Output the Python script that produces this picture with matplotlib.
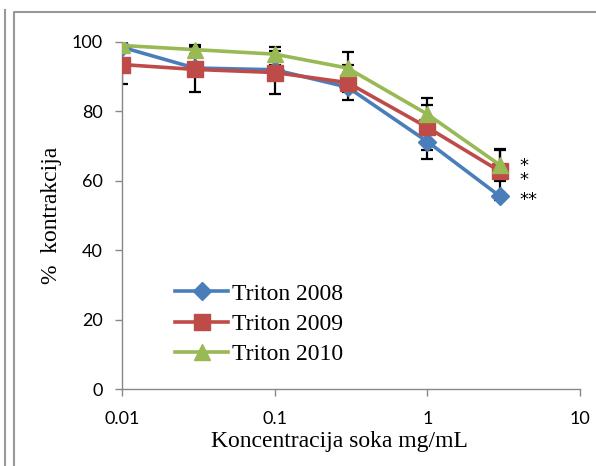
import matplotlib
matplotlib.use("Agg")
import matplotlib.pyplot as plt
from matplotlib.lines import Line2D

conc = [0.01, 0.03, 0.1, 0.3, 1, 3]
triton_2008 = [98.5, 92.5, 92.0, 87.0, 71.3, 55.5]
triton_2009 = [93.5, 92.1, 91.2, 88.3, 75.4, 62.7]
triton_2010 = [99.0, 97.8, 96.5, 92.5, 79.2, 64.5]
err_2008 = [1.0, 1.0, 1.5, 1.5, 5.0, 1.0]
err_2009 = [5.5, 6.5, 6.3, 5.0, 6.5, 6.5]
err_2010 = [1.0, 1.2, 2.0, 4.7, 4.7, 4.5]
series_names = ["Triton 2008", "Triton 2009", "Triton 2010"]
y_ticks = [0, 20, 40, 60, 80, 100]
x_ticks = [0.01, 0.1, 1, 10]
x_tick_labels = ["0.01", "0.1", "1", "10"]
star_top = "*\n*"
star_top_y = 62.2
star_bottom = "**"
star_bottom_y = 54.6

W, H = 596, 466
fig = plt.figure(figsize=(W / 100, H / 100), dpi=100)
ax = fig.add_axes([122 / W, 1 - 389 / H, (580 - 122) / W, (389 - 42) / H])

colors = ["#4A7EBB", "#BE4B48", "#98B954"]
markers = ["D", "s", "^"]
msizes = [9, 11.5, 11.5]
data = [triton_2008, triton_2009, triton_2010]
errs = [err_2008, err_2009, err_2010]

for d, e in zip(data, errs):
    ax.errorbar(conc, d, yerr=e, fmt="none", ecolor="black", elinewidth=1.6,
                capsize=4, capthick=1.6, zorder=2)

handles = []
for i, (d, c, m, ms) in enumerate(zip(data, colors, markers, msizes)):
    ln, = ax.plot(conc, d, color=c, lw=2.6, marker=m, markersize=ms,
                  markerfacecolor=c, markeredgecolor=c, zorder=3 + i,
                  label=series_names[i])
    handles.append(ln)

ax.set_xscale("log")
ax.set_xlim(0.01, 10)
ax.set_ylim(0, 100)
ax.set_xticks(x_ticks)
ax.set_xticklabels(x_tick_labels)
ax.xaxis.set_minor_locator(matplotlib.ticker.NullLocator())
ax.set_yticks(y_ticks)

for s in ["top", "right"]:
    ax.spines[s].set_visible(False)
for s in ["left", "bottom"]:
    ax.spines[s].set_color("#888888")
    ax.spines[s].set_linewidth(1.0)
ax.tick_params(axis="both", direction="out", length=5, width=1.0, color="#888888",
               labelsize=13)
ax.tick_params(axis="y", pad=9)
ax.tick_params(axis="x", pad=11)
for lab in ax.get_xticklabels() + ax.get_yticklabels():
    lab.set_family("Lato")

ax.text(4.0, star_top_y, star_top, fontsize=13, family="DejaVu Sans", ha="left",
        va="center", linespacing=0.75)
ax.text(4.0, star_bottom_y, star_bottom, fontsize=13, family="DejaVu Sans", ha="left",
        va="center")

ax.legend(handles=handles, loc="upper left", bbox_to_anchor=(0.116, 0.305),
          frameon=False, prop={"family": "Liberation Serif", "size": 17},
          handlelength=2.25, handletextpad=0.15, labelspacing=0.37, borderaxespad=0,
          borderpad=0)

fig.text(339 / W, 1 - 442 / H, "Koncentracija soka mg/mL", ha="center", va="center",
         family="Liberation Serif", fontsize=17)
fig.text(52 / W, 1 - 215 / H, "%  kontrakcija", ha="center", va="center",
         rotation=90, family="Liberation Serif", fontsize=17)

# frame lines
fig.add_artist(Line2D([5 / W, 5 / W], [0, 1 - 10 / H], color="#999999", lw=1.5,
                      transform=fig.transFigure))
fig.add_artist(Line2D([14 / W, 14 / W, 1], [0, 1 - 12 / H, 1 - 12 / H], color="#999999",
                      lw=1.5, transform=fig.transFigure))

fig.savefig("out.png", dpi=100)
